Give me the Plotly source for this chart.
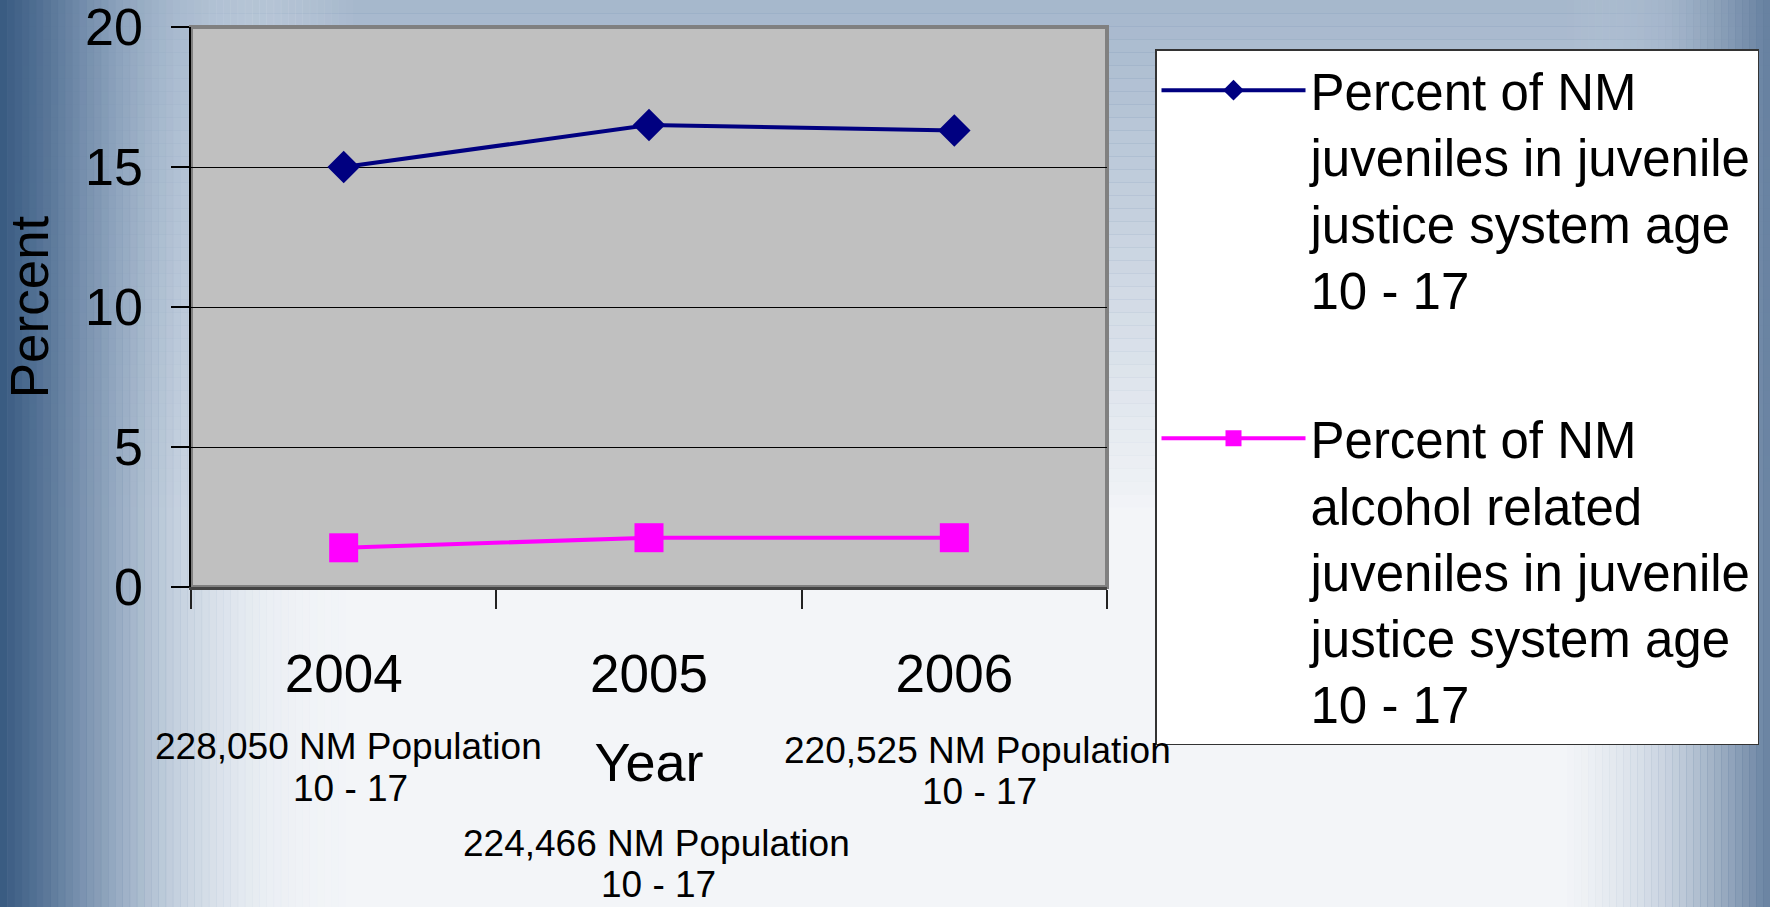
import plotly.graph_objects as go

# ---------------- data ----------------
years = ["2004", "2005", "2006"]
pct_juvenile = [15.0, 16.5, 16.3]
pct_alcohol = [1.4, 1.76, 1.76]
population_labels = ["228,050 NM Population", "224,466 NM Population", "220,525 NM Population"]
age_range_label = "10 - 17"
y_tick_values = [0, 5, 10, 15, 20]
series_names = [
    "Percent of NM<br>juveniles in juvenile<br>justice system age<br>10 - 17",
    "Percent of NM<br>alcohol related<br>juveniles in juvenile<br>justice system age<br>10 - 17",
]

# ---------------- layout geometry ----------------
W, H = 1770, 907
L, R, T, B = 191, 1107, 27, 587
X_RANGE = [-0.5, len(years) - 0.5]


def px(x):
    return (x - L) / (R - L)


def py(y):
    return (B - y) / (B - T)


FONT = "Arial, Liberation Sans, sans-serif"

fig = go.Figure()
fig.add_trace(go.Scatter(
    x=years, y=pct_juvenile, name=series_names[0], legendgroup="a",
    mode="lines+markers",
    line=dict(color="#000080", width=4),
    marker=dict(symbol="diamond", size=25, color="#000080"),
))
fig.add_trace(go.Scatter(
    x=years, y=pct_alcohol, name=series_names[1], legendgroup="b",
    mode="lines+markers",
    line=dict(color="#FF00FF", width=4),
    marker=dict(symbol="square", size=29, color="#FF00FF"),
))

# ---------------- background decoration ----------------
shapes = []


def lerp(c1, c2, t):
    return tuple(round(a + (b - a) * t) for a, b in zip(c1, c2))


def grad_h(x0, x1, stops, n):
    out = []
    for i in range(n):
        t = i / (n - 1)
        for j in range(len(stops) - 1):
            if stops[j][0] <= t <= stops[j + 1][0]:
                tt = (t - stops[j][0]) / (stops[j + 1][0] - stops[j][0])
                c = lerp(stops[j][1], stops[j + 1][1], tt)
                a = stops[j][2] + (stops[j + 1][2] - stops[j][2]) * tt
                break
        xa = x0 + (x1 - x0) * i / n
        xb = x0 + (x1 - x0) * (i + 1) / n + 0.6
        out.append(dict(type="rect", xref="paper", yref="paper", layer="below",
                        x0=px(xa), x1=px(xb), y0=py(H), y1=py(0),
                        line=dict(width=0),
                        fillcolor="rgba(%d,%d,%d,%.3f)" % (c + (a,))))
    return out


def grad_v(y0, y1, c, a0, a1, n):
    out = []
    for i in range(n):
        t = i / (n - 1)
        a = a0 + (a1 - a0) * t
        ya = y0 + (y1 - y0) * i / n
        yb = y0 + (y1 - y0) * (i + 1) / n + 0.6
        out.append(dict(type="rect", xref="paper", yref="paper", layer="below",
                        x0=px(0), x1=px(W), y0=py(yb), y1=py(ya),
                        line=dict(width=0),
                        fillcolor="rgba(%d,%d,%d,%.3f)" % (c + (a,))))
    return out


shapes += grad_v(0, 520, (140, 163, 190), 0.75, 0.0, 40)
shapes += grad_h(0, 360, [
    (0.0, (58, 92, 130), 1.0),
    (0.12, (82, 112, 148), 0.95),
    (0.3, (128, 152, 180), 0.85),
    (0.5, (170, 188, 208), 0.6),
    (0.75, (215, 224, 234), 0.3),
    (1.0, (240, 243, 247), 0.0),
], 50)
shapes += grad_h(1560, W, [
    (0.0, (200, 212, 225), 0.0),
    (0.5, (160, 178, 200), 0.5),
    (0.8, (125, 148, 175), 0.8),
    (1.0, (100, 126, 158), 0.95),
], 30)

shapes.append(dict(type="rect", xref="paper", yref="paper", layer="below",
                   x0=0, x1=1, y0=0, y1=1, fillcolor="#C0C0C0",
                   line=dict(color="#808080", width=4)))

# ---------------- annotations ----------------
annotations = []
pop_xshift = [5, 7, 23]
pop_ypix = [747, 843, 750]
for i, lbl in enumerate(population_labels):
    xf = (i - X_RANGE[0]) / (X_RANGE[1] - X_RANGE[0])
    annotations.append(dict(x=xf, y=py(pop_ypix[i]), xref="paper", yref="paper",
                            text=lbl, showarrow=False, xshift=pop_xshift[i],
                            xanchor="center", yanchor="middle",
                            font=dict(family=FONT, size=37, color="black")))
    annotations.append(dict(x=xf, y=py(pop_ypix[i] + 41), xref="paper", yref="paper",
                            text=age_range_label, showarrow=False, xshift=pop_xshift[i] + 2,
                            xanchor="center", yanchor="middle",
                            font=dict(family=FONT, size=37, color="black")))

fig.update_layout(
    template="plotly",
    width=W, height=H, autosize=False,
    margin=dict(l=L, r=W - R, t=T, b=H - B, pad=0, autoexpand=False),
    paper_bgcolor="#f3f5f8",
    plot_bgcolor="rgba(0,0,0,0)",
    font=dict(family=FONT, color="black"),
    shapes=shapes,
    annotations=annotations,
    showlegend=True,
    legend=dict(
        x=px(1155), y=py(49), xanchor="left", yanchor="top",
        bgcolor="white", bordercolor="#333333", borderwidth=1.5,
        font=dict(family=FONT, size=51, color="black"),
        itemwidth=144, valign="top", tracegroupgap=80,
        traceorder="grouped", maxheight=900,
    ),
    xaxis=dict(
        type="category", range=X_RANGE, automargin=False,
        tickson="boundaries", ticks="outside", ticklen=19, tickcolor="#222222", tickwidth=1.5,
        showline=True, linecolor="#444444", linewidth=3,
        showgrid=False, zeroline=False,
        tickfont=dict(family=FONT, size=53, color="black"),
        ticklabelstandoff=38,
        title=dict(text="Year", font=dict(family=FONT, size=54, color="black"), standoff=42),
        fixedrange=True,
    ),
    yaxis=dict(
        range=[0, 20], tickvals=y_tick_values, automargin=False,
        ticks="outside", ticklen=18, tickcolor="black", tickwidth=1.5,
        showline=True, linecolor="black", linewidth=1.5,
        showgrid=True, gridcolor="black", gridwidth=1,
        zeroline=False,
        tickfont=dict(family=FONT, size=52, color="black"),
        ticklabelstandoff=18, ticklabeloverflow="allow",
        title=dict(text="Percent", font=dict(family=FONT, size=53, color="black"), standoff=34),
        fixedrange=True,
    ),
)

fig.write_html(
    "out.html",
    config={"displayModeBar": False, "responsive": False},
    post_script="document.body.style.margin='0';document.body.style.overflow='hidden';",
)
